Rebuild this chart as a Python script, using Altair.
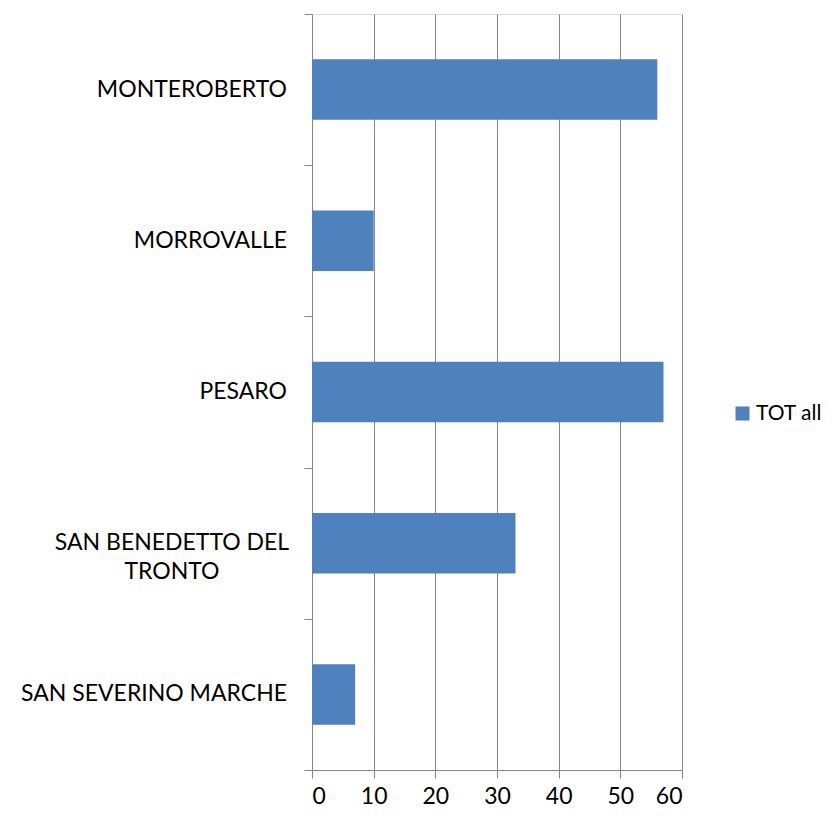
import altair as alt
import pandas as pd

cities = ["MONTEROBERTO", "MORROVALLE", "PESARO", "SAN BENEDETTO DEL TRONTO", "SAN SEVERINO MARCHE"]
labels = ["MONTEROBERTO", "MORROVALLE", "PESARO", "SAN BENEDETTO DEL\nTRONTO", "SAN SEVERINO MARCHE"]
values = [56, 10, 57, 33, 7]
series_name = "TOT all"
x_ticks = [0, 10, 20, 30, 40, 50, 60]

df = pd.DataFrame({"city": cities, "label": labels, "value": values, "series": series_name,
                   "wrapped": [("\n" in l) for l in labels]})

FONT = "Lato"
FS = 23
BAR = "#4F81BD"
GRID = "#868686"

y_scale = alt.Scale(domain=cities, paddingInner=0, paddingOuter=0)

bars = alt.Chart(df).mark_bar(height=alt.RelativeBandSize(0.4)).encode(
    x=alt.X("value:Q", scale=alt.Scale(domain=[0, 60], nice=False),
            axis=alt.Axis(values=x_ticks, title=None, grid=True, gridColor=GRID, gridWidth=1,
                          domainColor=GRID, tickColor=GRID, tickSize=8, labelPadding=7,
                          labelFont=FONT, labelFontSize=FS, labelColor="black", format="d")),
    y=alt.Y("city:N", scale=y_scale, sort=cities,
            axis=alt.Axis(title=None, labels=False, tickBand="extent", tickSize=8,
                          domainColor=GRID, tickColor=GRID, grid=False)),
    color=alt.Color("series:N", scale=alt.Scale(range=[BAR]),
                    legend=alt.Legend(title=None, orient="none", legendX=420, legendY=389,
                                      symbolType="square", symbolSize=196, symbolStrokeWidth=0,
                                      labelFont=FONT, labelFontSize=21, labelColor="black",
                                      labelOffset=3, padding=0)),
)

right_labels = alt.Chart(df).transform_filter("!datum.wrapped").mark_text(
    align="right", baseline="middle", font=FONT, fontSize=FS, color="black"
).encode(
    y=alt.Y("city:N", scale=y_scale, sort=cities),
    x=alt.value(-25),
    text="label:N",
)

center_labels = alt.Chart(df).transform_filter("datum.wrapped").mark_text(
    align="center", baseline="middle", font=FONT, fontSize=FS, color="black",
    lineBreak="\n", lineHeight=29
).encode(
    y=alt.Y("city:N", scale=y_scale, sort=cities),
    x=alt.value(-140),
    text="label:N",
)

chart = alt.layer(bars, right_labels, center_labels).properties(
    width=370, height=756,
    autosize=alt.AutoSizeParams(type="none"),
    padding={"left": 304, "top": 6, "right": 146, "bottom": 38},
).configure_view(stroke=None).configure(background="white")

chart.save("out.html", embed_options={"renderer": "svg", "actions": False})
